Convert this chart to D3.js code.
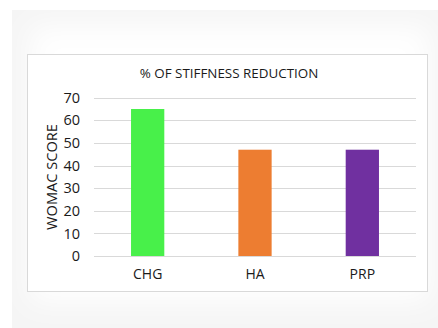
<!DOCTYPE html>
<html>
<head>
<meta charset="utf-8">
<script src="https://cdn.jsdelivr.net/npm/d3@7"></script>
<style>
  html, body { margin: 0; padding: 0; background: #ffffff; }
  svg { display: block; }
  text { font-family: "Open Sans", "Noto Sans", sans-serif; fill: #1a1a1a; }
</style>
</head>
<body>
<svg id="chart" width="438" height="328"></svg>
<script>
// Data
const categories = ["CHG", "HA", "PRP"];
const values = [65, 47, 47];
const barColors = ["#48f04a", "#ed7d31", "#7030a0"];
const yTicks = [0, 10, 20, 30, 40, 50, 60, 70];
const chartTitle = "% OF STIFFNESS REDUCTION";
const yTitle = "WOMAC SCORE";

const svg = d3.select("#chart");
const defs = svg.append("defs");
defs.append("filter").attr("id", "soft")
  .attr("x", "-20%").attr("y", "-20%").attr("width", "140%").attr("height", "140%")
  .append("feGaussianBlur").attr("stdDeviation", 14);

// Card background with soft grey edges
svg.append("rect").attr("x", 12).attr("y", 10).attr("width", 440).attr("height", 330)
  .attr("fill", "#f5f5f5");
svg.append("rect").attr("x", 30).attr("y", 26).attr("width", 400).attr("height", 276)
  .attr("fill", "#ffffff").attr("filter", "url(#soft)");

// Chart frame
svg.append("rect").attr("x", 27.5).attr("y", 54.5).attr("width", 400).attr("height", 237)
  .attr("fill", "#ffffff").attr("stroke", "#d9d9d9").attr("stroke-width", 1);

const plot = { left: 94, right: 416, top: 97.7, bottom: 256 };

const x = d3.scaleBand().domain(categories)
  .range([plot.left, plot.right]).paddingInner(0.69).paddingOuter(0.345);
const y = d3.scaleLinear().domain([0, 70]).range([plot.bottom, plot.top]);

// Gridlines
svg.append("g").selectAll("line").data(yTicks).join("line")
  .attr("x1", plot.left).attr("x2", plot.right)
  .attr("y1", d => Math.round(y(d)) + 0.5).attr("y2", d => Math.round(y(d)) + 0.5)
  .attr("stroke", "#d9d9d9").attr("stroke-width", 1);

// Bars
svg.append("g").selectAll("rect").data(values).join("rect")
  .attr("x", (d, i) => x(categories[i]))
  .attr("width", x.bandwidth())
  .attr("y", d => y(d))
  .attr("height", d => y(0) - y(d))
  .attr("fill", (d, i) => barColors[i]);

// Y axis labels
const yAxis = d3.axisLeft(y).tickValues(yTicks).tickSize(0).tickPadding(0);
const yg = svg.append("g").attr("transform", "translate(80,0)").call(yAxis);
yg.select(".domain").remove();
yg.selectAll("text").attr("font-size", 14.5).attr("font-family", "Open Sans, sans-serif")
  .attr("fill", "#1a1a1a");

// X axis labels
const xAxis = d3.axisBottom(x).tickSize(0).tickPadding(0);
const xg = svg.append("g").attr("transform", `translate(0,${plot.bottom + 13})`).call(xAxis);
xg.select(".domain").remove();
xg.selectAll("text").attr("font-size", 14).attr("font-family", "Open Sans, sans-serif")
  .attr("fill", "#1a1a1a");

// Titles
svg.append("text").attr("x", 229).attr("y", 77.5).attr("text-anchor", "middle")
  .attr("font-size", 13.4).text(chartTitle);
svg.append("text").attr("transform", "translate(57,177) rotate(-90)")
  .attr("text-anchor", "middle").attr("font-size", 14.6).text(yTitle);
</script>
</body>
</html>
